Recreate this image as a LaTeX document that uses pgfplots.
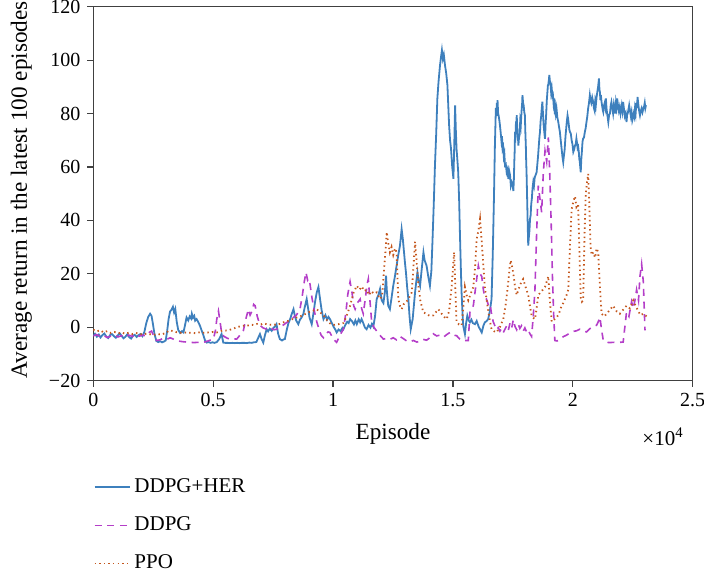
\documentclass[border=0pt]{standalone}
\usepackage{fontspec}
\setmainfont{Liberation Serif}
\usepackage{pgfplots}
\usepackage{pgfplotstable}
\pgfplotsset{compat=1.18}

\definecolor{herblue}{RGB}{62,128,189}
\definecolor{ddpgmag}{RGB}{180,62,200}
\definecolor{ppoorange}{RGB}{196,86,28}

% DDPG+HER: average return over the latest 100 episodes
\pgfplotstableread{
ep ret
0 -3.2
70 -2.5
150 -3.6
230 -2.8
300 -3.9
380 -3.0
460 -2.4
540 -3.5
620 -4.1
700 -3.0
780 -2.6
860 -3.4
940 -4.0
1020 -3.1
1100 -2.3
1180 -3.3
1260 -4.2
1340 -3.6
1420 -2.7
1500 -3.8
1580 -4.3
1660 -3.2
1730 -2.9
1810 -3.7
1890 -3.0
1970 -2.6
2050 -3.4
2130 -1.8
2210 1.5
2290 3.8
2370 5.0
2430 4.2
2490 1.0
2550 -2.5
2630 -5.2
2710 -5.6
2790 -5.3
2870 -5.7
2950 -5.4
3020 -5.0
3080 -1.5
3140 3.0
3200 5.8
3260 6.5
3320 7.6
3370 5.5
3420 6.8
3480 2.0
3540 -1.0
3620 -2.2
3700 -1.5
3760 -2.0
3820 0.5
3890 3.6
3960 2.5
4020 4.0
4080 3.2
4110 5.0
4160 3.5
4210 4.2
4250 2.4
4310 3.0
4380 1.8
4450 0.5
4520 -1.3
4590 -3.0
4660 -5.0
4730 -5.8
4810 -5.6
4890 -5.9
4970 -5.7
5050 -5.9
5150 -5.6
5250 -4.5
5350 -2.6
5420 -5.8
5500 -5.9
5600 -5.9
5700 -6.0
5800 -5.9
5900 -6.0
6000 -5.9
6100 -6.0
6200 -5.9
6300 -5.9
6400 -6.0
6500 -5.8
6600 -5.9
6700 -5.7
6800 -5.6
6880 -4.0
6950 -2.6
7020 -4.5
7090 -5.8
7160 -3.0
7230 -0.8
7290 -1.6
7360 -0.6
7440 -1.4
7510 -0.3
7580 0.2
7640 1.1
7710 -2.5
7780 -4.5
7870 -5.0
7940 -4.6
7990 -4.5
8070 -1.0
8140 1.5
8210 3.0
8280 5.0
8350 6.7
8400 4.5
8460 2.5
8550 1.1
8620 2.8
8680 3.5
8760 4.9
8820 7.5
8900 10.5
8960 7.0
9020 3.5
9110 1.1
9180 5.0
9250 9.5
9320 13.0
9390 15.0
9450 11.0
9520 6.5
9600 3.0
9680 4.5
9750 2.8
9810 3.8
9870 3.0
9950 1.5
10030 0.0
10110 -1.2
10150 -2.0
10230 -0.9
10310 -1.5
10390 -0.3
10430 -0.8
10510 0.8
10590 2.0
10650 1.5
10710 3.0
10790 2.2
10870 1.0
10930 2.5
10990 1.1
11070 2.9
11130 1.8
11190 3.0
11260 1.5
11330 -0.2
11400 -0.8
11480 0.8
11560 -0.2
11620 1.2
11680 0.2
11750 4.0
11820 10.5
11890 12.0
11960 14.3
12030 10.0
12100 9.0
12160 13.0
12210 19.3
12240 14.0
12300 8.0
12370 6.7
12440 11.0
12510 15.5
12580 19.0
12650 23.0
12720 27.0
12790 30.5
12860 36.7
12910 33.0
12960 28.0
13000 24.0
13040 20.5
13090 15.0
13140 10.5
13190 4.0
13240 -0.8
13320 3.0
13370 8.0
13420 13.0
13470 17.0
13520 20.5
13570 17.5
13630 15.5
13690 21.0
13730 24.5
13770 28.0
13820 25.0
13900 23.0
13970 19.0
14040 15.5
14100 21.0
14150 33.0
14200 46.0
14250 60.6
14300 72.0
14350 85.6
14400 92.0
14460 98.0
14500 101.0
14540 103.7
14580 100.5
14620 102.0
14670 98.0
14720 95.0
14770 90.6
14810 82.0
14840 75.6
14880 70.0
14920 66.8
14970 60.0
15020 55.5
15060 70.0
15090 83.0
15120 74.0
15150 66.8
15190 62.0
15220 58.0
15260 47.0
15290 35.6
15330 22.0
15360 13.0
15400 5.0
15430 0.5
15500 -2.6
15550 1.5
15600 4.3
15660 2.5
15710 1.8
15770 2.8
15830 1.5
15920 1.1
15990 2.3
16070 0.2
16130 -0.8
16200 -2.0
16270 0.5
16330 1.8
16400 2.2
16470 3.0
16540 6.0
16610 10.5
16660 27.0
16710 48.0
16750 68.0
16790 82.0
16810 79.0
16830 84.0
16845 81.5
16860 85.0
16885 80.0
16910 79.0
16935 77.5
16960 75.6
16990 73.0
17020 70.0
17045 71.5
17070 66.8
17095 67.5
17120 64.0
17145 65.0
17170 60.6
17205 61.0
17240 58.0
17275 59.0
17310 55.5
17345 58.5
17380 57.0
17415 53.0
17450 54.3
17485 53.5
17520 51.0
17540 55.0
17560 62.0
17575 66.0
17590 73.0
17610 72.0
17630 77.0
17645 75.5
17660 79.4
17680 75.0
17700 72.0
17715 70.5
17730 68.0
17755 71.0
17780 72.0
17805 77.0
17830 75.6
17850 79.0
17870 82.0
17885 83.5
17900 86.9
17925 84.0
17950 83.0
17975 80.5
18000 79.4
18020 73.0
18040 68.0
18055 62.0
18070 58.0
18090 50.0
18110 42.0
18125 36.0
18140 30.5
18165 33.5
18190 36.0
18215 40.5
18240 41.8
18265 46.0
18290 48.0
18320 52.0
18350 54.3
18380 53.0
18410 56.0
18450 57.0
18490 58.0
18520 61.0
18550 64.0
18570 66.5
18590 69.0
18610 71.5
18630 73.0
18655 77.0
18680 79.0
18705 82.0
18730 84.4
18755 80.0
18780 76.0
18810 73.0
18840 70.5
18865 76.0
18890 80.0
18915 85.0
18940 88.0
18960 90.5
18980 91.0
19000 92.5
19020 94.4
19045 92.0
19070 91.0
19095 88.0
19120 89.4
19145 86.5
19170 87.0
19195 84.0
19220 85.6
19240 82.0
19260 83.0
19290 80.0
19320 81.8
19355 78.5
19390 77.0
19425 75.0
19460 73.1
19495 70.0
19530 67.0
19565 64.0
19600 61.8
19620 63.5
19640 65.0
19655 66.0
19670 68.1
19695 71.5
19720 74.0
19750 77.0
19780 79.3
19805 78.0
19830 76.0
19855 74.0
19880 73.1
19915 72.5
19950 70.0
19985 68.5
20020 65.6
20055 66.5
20090 68.0
20120 68.5
20150 70.6
20175 69.0
20200 67.0
20225 67.5
20250 65.6
20270 63.0
20290 62.0
20310 60.0
20330 58.0
20355 63.0
20380 66.0
20405 69.5
20430 70.6
20465 71.0
20500 73.0
20535 74.5
20570 76.8
20605 79.0
20640 82.0
20675 84.0
20710 86.9
20740 85.0
20770 84.0
20810 86.0
20850 84.3
20880 82.0
20910 81.0
20935 84.5
20960 83.1
20990 86.0
21020 88.0
21055 90.0
21090 93.1
21110 89.0
21130 88.0
21150 85.0
21170 86.9
21195 84.5
21220 83.0
21245 81.5
21270 80.6
21300 83.0
21330 84.0
21355 82.5
21380 85.6
21405 82.0
21430 80.0
21455 78.5
21480 76.8
21515 79.5
21550 80.0
21580 83.0
21610 84.3
21645 82.0
21680 80.0
21715 83.5
21750 81.8
21775 80.0
21800 84.0
21825 82.5
21850 85.6
21885 83.0
21920 81.0
21955 82.5
21990 80.0
22015 81.5
22040 83.0
22070 81.0
22100 84.3
22135 81.5
22170 79.0
22205 80.0
22240 76.8
22265 79.5
22290 80.0
22320 81.5
22350 83.1
22385 81.0
22420 79.0
22450 80.5
22480 77.4
22510 78.5
22540 80.0
22565 79.0
22590 81.8
22620 80.0
22650 84.0
22675 82.0
22700 86.2
22725 84.0
22750 82.0
22775 80.5
22800 79.3
22835 81.0
22870 82.0
22905 80.5
22940 81.8
22970 82.5
23000 84.0
23025 82.0
23050 83.1
}\herdata

% DDPG
\pgfplotstableread{
ep ret
0 -3.3
140 -2.8
290 -3.6
430 -3.1
580 -3.9
730 -3.4
880 -2.9
1030 -3.7
1180 -3.2
1330 -3.8
1480 -3.0
1630 -3.5
1770 -2.6
1920 -3.4
2070 -3.0
2220 -3.3
2330 -2.0
2430 -1.5
2540 -3.8
2640 -5.0
2770 -4.8
2920 -4.2
3060 -4.6
3210 -4.0
3340 -4.5
3460 -5.0
3610 -5.3
3760 -5.5
3910 -5.6
4030 -5.7
4200 -5.8
4360 -5.7
4500 -5.8
4590 -5.7
4750 -5.3
4900 -4.8
5010 -4.5
5100 -1.0
5150 3.0
5220 6.0
5280 2.5
5350 -2.0
5450 -3.5
5600 -4.2
5700 -4.5
5840 -4.4
5980 -4.5
6120 -3.0
6260 -1.3
6360 3.0
6470 6.7
6540 4.5
6620 6.0
6690 8.5
6750 8.0
6840 4.0
6950 0.7
7080 -0.3
7230 -0.8
7330 -1.2
7430 -0.5
7530 -1.0
7640 -0.8
7780 0.0
7930 0.8
8080 1.8
8210 2.6
8330 3.5
8470 4.5
8620 6.7
8720 12.0
8800 17.0
8870 20.5
8940 17.5
8990 18.0
9040 16.0
9120 11.0
9220 6.0
9320 2.0
9420 -1.0
9500 -3.0
9600 -4.0
9710 -2.5
9790 -1.8
9870 -2.0
10010 -4.5
10150 -5.7
10290 -3.0
10430 -0.8
10530 5.0
10610 12.0
10710 17.0
10790 13.0
10860 8.0
10920 6.7
11010 9.0
11130 10.5
11190 7.0
11260 5.0
11350 11.0
11420 16.0
11470 18.0
11520 12.0
11610 2.0
11700 0.0
11820 -1.5
11950 -3.0
12100 -4.5
12240 -4.2
12370 -4.6
12510 -4.0
12650 -4.8
12790 -3.5
12930 -4.3
13070 -5.2
13210 -5.5
13350 -5.0
13490 -5.6
13630 -5.3
13760 -4.6
13900 -4.9
14040 -4.0
14180 -2.5
14320 -3.3
14460 -3.0
14600 -3.8
14740 -2.8
14880 -2.0
15020 -3.0
15150 -3.2
15290 -4.5
15430 -5.2
15570 -5.0
15640 -5.0
15710 5.6
15780 7.0
15850 8.0
15920 13.0
15990 18.0
16060 23.0
16130 20.0
16200 19.0
16270 14.0
16330 11.0
16400 10.5
16470 8.5
16540 9.0
16610 5.0
16680 2.0
16750 0.5
16820 -1.0
16890 -0.2
16960 -1.5
17030 -0.5
17100 -2.0
17170 -0.8
17240 0.5
17310 -1.2
17380 1.5
17450 -0.3
17520 2.8
17590 0.2
17660 -1.0
17730 1.0
17790 -0.5
17860 0.5
17930 -1.5
18000 -0.3
18070 -1.8
18140 -1.0
18210 -2.5
18280 -3.5
18350 4.0
18420 14.0
18490 35.0
18560 53.0
18630 48.0
18700 43.0
18770 58.0
18840 66.0
18910 62.0
18980 71.0
19040 57.0
19100 38.0
19150 19.0
19200 5.0
19250 -5.0
19340 -5.2
19460 -4.5
19600 -3.6
19740 -3.0
19880 -2.2
20020 -1.6
20150 -1.4
20290 -0.8
20430 -1.5
20570 -1.8
20710 -0.6
20850 0.2
20990 0.7
21060 2.0
21130 3.7
21200 -1.0
21270 -5.0
21410 -5.7
21550 -5.8
21680 -5.7
21820 -5.8
21960 -5.7
22100 -5.6
22170 0.0
22240 5.6
22340 4.0
22450 9.5
22520 7.0
22590 10.0
22660 14.0
22740 10.0
22800 19.0
22870 23.6
22940 17.0
23010 -1.2
}\ddpgdata

% PPO
\pgfplotstableread{
ep ret
0 -1.0
140 -1.6
290 -1.2
430 -2.0
580 -1.5
730 -2.2
880 -1.8
1030 -2.4
1180 -2.0
1330 -2.5
1480 -2.1
1630 -2.6
1770 -2.2
1920 -2.5
2070 -2.8
2220 -2.4
2370 -2.7
2520 -2.9
2670 -2.6
2820 -2.8
2960 -2.4
3080 -1.8
3200 -1.2
3360 -1.6
3510 -2.0
3660 -2.1
3810 -2.0
3960 -2.2
4110 -2.1
4260 -2.3
4400 -2.0
4550 -2.2
4700 -1.9
4850 -2.1
5000 -1.8
5150 -2.0
5300 -1.5
5450 -1.2
5600 -1.3
5700 -1.0
5840 -0.6
5990 0.0
6140 0.3
6260 0.5
6390 0.4
6540 0.9
6680 0.8
6840 1.2
6990 1.0
7090 1.4
7230 1.1
7380 0.9
7530 1.0
7640 0.8
7780 1.2
7930 1.8
8080 2.2
8210 2.6
8350 3.2
8480 3.6
8620 4.0
8760 4.5
8900 5.2
9040 5.8
9180 6.2
9320 6.7
9460 5.5
9600 4.5
9710 3.0
9860 1.5
10010 0.8
10160 1.0
10290 1.2
10430 1.5
10560 4.0
10710 8.0
10860 13.0
10990 15.5
11100 14.0
11200 15.2
11300 13.5
11400 14.0
11500 12.0
11600 13.5
11700 12.5
11820 13.0
11960 10.5
12050 12.0
12130 22.0
12200 30.0
12240 35.6
12290 32.0
12370 28.0
12440 30.0
12510 27.0
12590 29.5
12650 28.0
12720 10.5
12790 8.0
12860 6.7
12940 8.5
13070 9.6
13170 11.0
13280 13.0
13350 22.0
13420 32.0
13490 24.0
13560 15.5
13640 10.0
13760 5.6
13880 5.0
14030 4.2
14180 4.4
14280 5.5
14390 6.7
14530 5.0
14640 3.8
14740 3.0
14840 6.0
14950 15.5
15000 22.0
15050 28.0
15110 12.0
15150 2.0
15250 1.0
15360 0.6
15430 7.0
15500 15.0
15570 12.0
15640 10.0
15740 12.5
15850 15.0
15920 22.0
15990 33.0
16060 36.0
16130 40.5
16200 32.0
16270 23.0
16330 15.0
16400 10.5
16510 4.0
16610 -0.8
16710 -1.5
16820 -2.0
16960 0.0
17100 3.0
17210 9.0
17310 17.0
17360 22.0
17410 25.0
17470 22.5
17520 20.0
17590 15.0
17660 12.0
17730 14.0
17790 15.5
17860 17.0
17930 18.0
18030 15.0
18140 12.0
18210 8.0
18280 4.4
18350 3.5
18420 3.0
18490 7.0
18560 12.0
18700 13.5
18840 15.0
18910 17.0
18980 19.0
19040 10.0
19120 2.0
19220 2.8
19320 3.5
19420 5.0
19530 8.0
19600 9.0
19670 10.5
19740 12.0
19810 14.0
19880 30.0
19950 44.0
20020 47.0
20090 49.0
20150 45.0
20220 46.0
20270 30.0
20330 11.0
20380 9.5
20430 10.0
20490 35.0
20540 50.0
20590 54.0
20640 57.4
20690 45.0
20740 30.0
20790 27.0
20850 28.0
20930 26.0
20990 29.5
21060 28.0
21130 15.0
21200 5.0
21310 4.0
21410 5.0
21550 6.5
21680 8.0
21820 6.0
21960 5.0
22100 6.5
22240 8.0
22380 7.0
22520 10.0
22620 8.0
22730 6.0
22820 4.5
22940 5.0
23080 4.0
}\ppodata

\begin{document}
\begin{tikzpicture}
\begin{axis}[
  name=main,
  scale only axis,
  width=299.7bp, height=186.9bp,
  xmin=0, xmax=25000,
  ymin=-20, ymax=120,
  xtick={0,5000,10000,15000,20000,25000},
  xticklabels={0,0.5,1,1.5,2,2.5},
  scaled x ticks=false,
  ytick={-20,0,20,40,60,80,100,120},
  yticklabels={−20,0,20,40,60,80,100,120},
  tick align=outside,
  xtick pos=bottom, ytick pos=left,
  major tick length=3bp,
  tick style={line width=0.6bp, color=black!75},
  axis line style={line width=0.6bp, color=black!75},
  ticklabel style={font=\fontsize{10bp}{12bp}\selectfont},
  /pgf/number format/assume math mode=true,
  xlabel={\fontsize{11.6bp}{13bp}\selectfont Episode},
  ylabel={\fontsize{11.6bp}{13bp}\selectfont Average return in the latest 100 episodes},
  every axis x label/.style={at={(axis description cs:0.5,0)}, anchor=center, yshift=-26.5bp},
  every axis y label/.style={at={(axis description cs:-0.1201,0.51)}, anchor=center, rotate=90},
  legend style={
    at={(axis description cs:0,0)}, anchor=north west, yshift=-47bp,
    draw=none, fill=none, inner sep=0pt, row sep=6.6bp,
    font=\fontsize{10.5bp}{12bp}\selectfont,
    legend cell align=left,
  },
  legend image code/.code={\draw[#1] (0bp,0bp) -- (17.5bp,0bp);},
]
\addplot[color=herblue, line width=0.9bp] table[x=ep, y=ret] {\herdata};
\addlegendentry{DDPG+HER}
\addplot[color=ddpgmag, line width=0.8bp, dash pattern=on 3.5bp off 2.8bp] table[x=ep, y=ret] {\ddpgdata};
\addlegendentry{DDPG}
\addplot[color=ppoorange, line width=0.9bp, dash pattern=on 0.7bp off 1.6bp] table[x=ep, y=ret] {\ppodata};
\addlegendentry{PPO}
\end{axis}
\node[anchor=east, font=\fontsize{10.5bp}{12bp}\selectfont] at ([xshift=-1bp, yshift=-28bp]main.south east) {×10\textsuperscript{4}};
\pgfresetboundingbox
\useasboundingbox (-46.65bp,-98.25bp) rectangle (305.35bp,190.25bp);
\end{tikzpicture}
\end{document}
